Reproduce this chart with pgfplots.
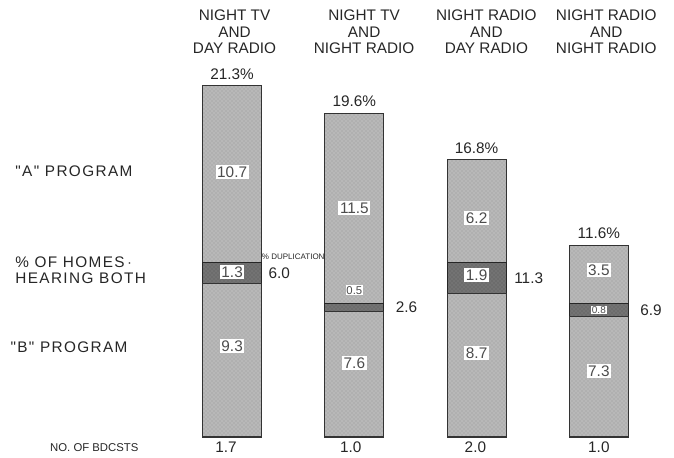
\documentclass[border=0pt]{standalone}
\usepackage{fontspec}
\setmainfont{Liberation Sans}
\newfontfamily\widefont[LetterSpace=9]{Liberation Sans}
\usepackage{pgfplots}
\pgfplotsset{compat=1.18}
\usetikzlibrary{patterns}
\begin{document}
\begin{tikzpicture}[
  cat/.style={align=center, font=\fontsize{11.5}{12.4}\selectfont, text=black!85},
  lab/.style={font=\fontsize{11.5}{12.4}\selectfont, text=black!85},
  left/.style={anchor=west, inner sep=0pt, font=\widefont\fontsize{11.5}{12.4}\selectfont, text=black!85},
  vbox/.style={fill=white, inner sep=1.2pt, font=\fontsize{11.5}{12}\selectfont, text=black!70},
  vboxs/.style={fill=white, inner sep=0.6pt, font=\fontsize{8.5}{9}\selectfont, text=black!70},
]
\useasboundingbox (-128.25pt,-15pt) rectangle (377.25pt,327.75pt);
\begin{axis}[at={(0,0)}, anchor=south west, scale only axis,
  width=366.75pt, height=321.75pt,
  xmin=-0.5, xmax=3.5, ymin=0, ymax=26,
  hide axis, clip=false, ybar stacked, bar width=44.25pt,
]
\addplot[fill=black!28, draw=black!80, line width=0.9pt,
  postaction={pattern=crosshatch dots, pattern color=black!40}]
  coordinates {(0,9.3) (1,7.6) (2,8.7) (3,7.3)};
\addplot[fill=black!55, draw=black!85, line width=0.9pt,
  postaction={pattern=crosshatch dots, pattern color=black!65}]
  coordinates {(0,1.3) (1,0.5) (2,1.9) (3,0.8)};
\addplot[fill=black!28, draw=black!80, line width=0.9pt,
  postaction={pattern=crosshatch dots, pattern color=black!40}]
  coordinates {(0,10.7) (1,11.5) (2,6.2) (3,3.5)};

% category headings
\node[cat] at (axis cs:0.02,24.55) {NIGHT TV\\AND\\DAY RADIO};
\node[cat] at (axis cs:1.08,24.55) {NIGHT TV\\AND\\NIGHT RADIO};
\node[cat] at (axis cs:2.08,24.55) {NIGHT RADIO\\AND\\DAY RADIO};
\node[cat] at (axis cs:3.06,24.55) {NIGHT RADIO\\AND\\NIGHT RADIO};

% totals
\node[lab] at (axis cs:0,22.0) {21.3\%};
\node[lab] at (axis cs:1,20.32) {19.6\%};
\node[lab] at (axis cs:2,17.52) {16.8\%};
\node[lab] at (axis cs:3,12.36) {11.6\%};

% left labels
\node[left] at (axis cs:-1.775,16.12) {"A" PROGRAM};
\node[left, align=left] at (axis cs:-1.775,10.12) {\% OF HOMES\,$\cdot$\\HEARING BOTH};
\node[left] at (axis cs:-1.815,5.45) {"B" PROGRAM};
\node[anchor=west, inner sep=0pt, font=\fontsize{8.5}{9}\selectfont, text=black!85] at (axis cs:-1.49,-0.62) {NO. OF BDCSTS};

% broadcasts
\node[lab] at (axis cs:-0.05,-0.62) {1.7};
\node[lab] at (axis cs:0.97,-0.62) {1.0};
\node[lab] at (axis cs:1.99,-0.62) {2.0};
\node[lab] at (axis cs:3.0,-0.62) {1.0};

% duplication
\node[lab, anchor=west] at (axis cs:0.26,9.95) {6.0};
\node[lab, anchor=west] at (axis cs:1.30,7.85) {2.6};
\node[lab, anchor=west] at (axis cs:2.27,9.6) {11.3};
\node[lab, anchor=west] at (axis cs:3.30,7.7) {6.9};
\node[font=\fontsize{6}{6}\selectfont, text=black!85] at (axis cs:0.5,10.9) {\% DUPLICATION};

% segment value positions
\coordinate (v1) at (axis cs:0,16.06);
\coordinate (v2) at (axis cs:0,10.0);
\coordinate (v3) at (axis cs:0,5.52);
\coordinate (v4) at (axis cs:1,13.88);
\coordinate (v5) at (axis cs:1,8.9);
\coordinate (v6) at (axis cs:1,4.48);
\coordinate (v7) at (axis cs:2,13.27);
\coordinate (v8) at (axis cs:2,9.82);
\coordinate (v9) at (axis cs:2,5.09);
\coordinate (v10) at (axis cs:3,10.12);
\coordinate (v11) at (axis cs:3,7.7);
\coordinate (v12) at (axis cs:3,4.0);
\end{axis}
\node[vbox] at (v1) {10.7};
\node[vbox] at (v2) {1.3};
\node[vbox] at (v3) {9.3};
\node[vbox] at (v4) {11.5};
\node[vboxs] at (v5) {0.5};
\node[vbox] at (v6) {7.6};
\node[vbox] at (v7) {6.2};
\node[vbox] at (v8) {1.9};
\node[vbox] at (v9) {8.7};
\node[vbox] at (v10) {3.5};
\node[vboxs, font=\fontsize{7.5}{8}\selectfont] at (v11) {0.8};
\node[vbox] at (v12) {7.3};
\end{tikzpicture}
\end{document}
